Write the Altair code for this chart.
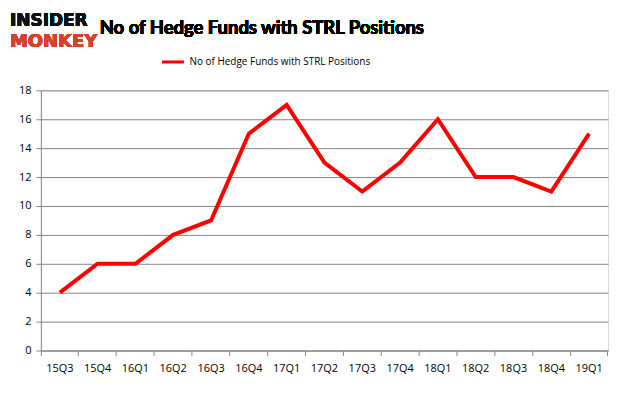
import altair as alt
import pandas as pd

quarters = ["15Q3", "15Q4", "16Q1", "16Q2", "16Q3", "16Q4", "17Q1", "17Q2",
            "17Q3", "17Q4", "18Q1", "18Q2", "18Q3", "18Q4", "19Q1"]
funds = [4, 6, 6, 8, 9, 15, 17, 13, 11, 13, 16, 12, 12, 11, 15]
series_name = "No of Hedge Funds with STRL Positions"
y_ticks = [0, 2, 4, 6, 8, 10, 12, 14, 16, 18]

df = pd.DataFrame({"quarter": quarters, "funds": funds, "series": series_name})

FONT = "Open Sans"
GRAY = "#868686"

line = alt.Chart(df).mark_line(strokeWidth=4, strokeJoin="miter").encode(
    x=alt.X("quarter:O", sort=quarters, bandPosition=0.5,
            scale=alt.Scale(type="band", paddingInner=0, paddingOuter=0),
            axis=alt.Axis(title=None, grid=False, bandPosition=1, tickExtra=True,
                          labelAngle=0, tickSize=5, tickColor=GRAY, domainColor=GRAY,
                          labelPadding=7, labelFontSize=11, labelFont=FONT,
                          labelColor="#000000")),
    y=alt.Y("funds:Q", scale=alt.Scale(domain=[0, 18], nice=False),
            axis=alt.Axis(title=None, values=y_ticks, grid=True, gridColor=GRAY,
                          tickSize=5, tickColor=GRAY, domainColor=GRAY,
                          labelPadding=5, labelFontSize=11, labelFont=FONT,
                          labelColor="#000000")),
    color=alt.Color("series:N", scale=alt.Scale(range=["#ff0000"]),
                    legend=alt.Legend(title=None, orient="none", legendX=120, legendY=-41,
                                      symbolType="stroke", symbolSize=484,
                                      symbolStrokeWidth=3, labelFontSize=10,
                                      labelLimit=400,
                                      labelFont=FONT, labelColor="#000000")),
)

title = alt.Chart(df).mark_text(text="No of Hedge Funds with STRL Positions", font="Lato",
                                fontSize=18.5, fontWeight="bold", align="left",
                                baseline="middle", color="#000000").encode(
    x=alt.value(59), y=alt.value(-63))

logo1 = alt.Chart(df).mark_text(text="INSIDER", font="DejaVu Sans", fontSize=17,
                                fontWeight="bold", align="left", baseline="middle",
                                color="#111111").encode(
    x=alt.value(-31), y=alt.value(-70))
logo2 = alt.Chart(df).mark_text(text="MONKEY", font="DejaVu Sans", fontSize=18,
                                fontWeight="bold", align="left", baseline="middle",
                                color="#d8402c").encode(
    x=alt.value(-31), y=alt.value(-49))

chart = alt.layer(line, title, logo1, logo2).properties(
    width=569, height=261,
    autosize=alt.AutoSizeParams(type="none"),
    padding={"left": 33, "top": 82, "right": 10, "bottom": 40},
).configure_view(stroke=None).configure(background="white")

chart.save("out.html", embed_options={"renderer": "svg", "actions": False})
